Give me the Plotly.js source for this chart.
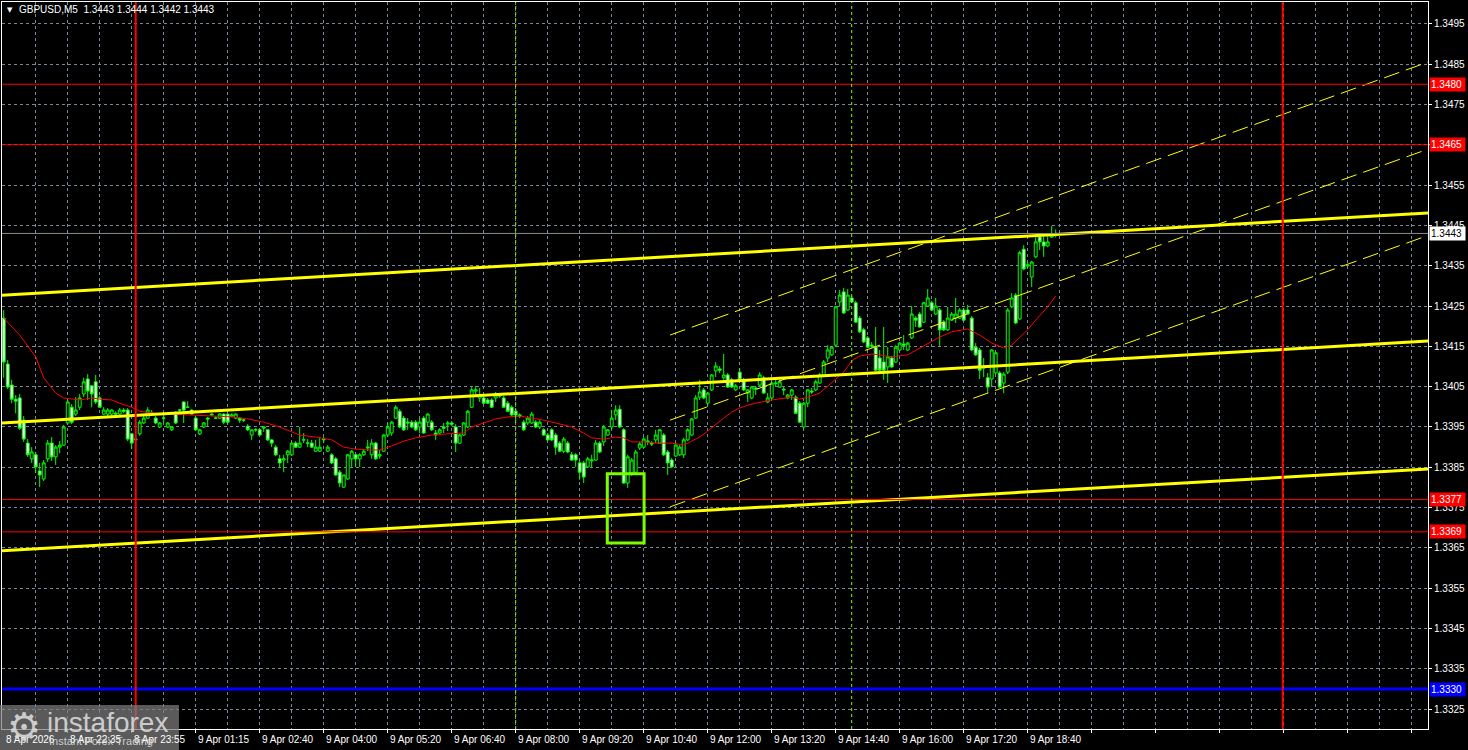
<!DOCTYPE html>
<html>
<head>
<meta charset="utf-8">
<script src="https://cdn.plot.ly/plotly-3.0.1.min.js"></script>
<style>
html,body{margin:0;padding:0;background:#000;}
#chart{width:1468px;height:750px;}
</style>
</head>
<body>
<div id="chart"></div>
<script>
// ---------- DATA (GBPUSD M5) ----------
const symbolTitle = "GBPUSD,M5  1.3443 1.3444 1.3442 1.3443";

const opens = [1.34220,1.34106,1.34054,1.34019,1.34022,1.33967,1.33910,1.33871,1.33881,1.33841,
1.33821,1.33871,1.33910,1.33876,1.33900,1.33905,1.33960,1.33999,1.33982,1.33999,
1.34032,1.34069,1.34052,1.34062,1.34022,1.33982,1.33982,1.33982,1.33984,1.33982,
1.33992,1.33992,1.33933,1.33918,1.33933,1.33960,1.33972,1.33984,1.33972,1.33950,
1.33972,1.33950,1.33943,1.33982,1.33992,1.34012,1.33999,1.33992,1.33972,1.33933,
1.33950,1.33972,1.33982,1.33972,1.33972,1.33982,1.33982,1.33977,1.33972,1.33972,
1.33967,1.33952,1.33930,1.33943,1.33943,1.33947,1.33943,1.33918,1.33900,1.33871,
1.33868,1.33881,1.33881,1.33910,1.33900,1.33918,1.33910,1.33910,1.33890,1.33890,
1.33918,1.33890,1.33881,1.33871,1.33838,1.33801,1.33821,1.33871,1.33881,1.33871,
1.33881,1.33898,1.33881,1.33910,1.33878,1.33890,1.33930,1.33935,1.33972,1.33989,
1.33972,1.33962,1.33962,1.33962,1.33950,1.33972,1.33962,1.33962,1.33935,1.33935,
1.33950,1.33957,1.33960,1.33950,1.33910,1.33930,1.33950,1.33999,1.34039,1.34022,
1.34022,1.34017,1.34017,1.34022,1.34029,1.34022,1.34009,1.33999,1.33989,1.33980,
1.33962,1.33960,1.33960,1.33962,1.33950,1.33943,1.33930,1.33943,1.33930,1.33910,
1.33890,1.33910,1.33881,1.33881,1.33861,1.33861,1.33851,1.33866,1.33868,1.33910,
1.33913,1.33930,1.33950,1.33980,1.33994,1.33943,1.33811,1.33836,1.33838,1.33898,
1.33900,1.33913,1.33910,1.33918,1.33910,1.33930,1.33888,1.33868,1.33878,1.33881,
1.33881,1.33918,1.33930,1.33972,1.34024,1.34042,1.34009,1.34042,1.34089,1.34094,
1.34072,1.34079,1.34067,1.34042,1.34086,1.34067,1.34034,1.34022,1.34047,1.34054,
1.34072,1.34012,1.34022,1.34057,1.34049,1.34044,1.34022,1.34029,1.34024,1.34009,
1.33950,1.34009,1.34039,1.34042,1.34059,1.34079,1.34121,1.34129,1.34153,1.34260,
1.34285,1.34240,1.34270,1.34258,1.34220,1.34191,1.34171,1.34153,1.34148,1.34121,
1.34111,1.34099,1.34121,1.34111,1.34141,1.34156,1.34141,1.34171,1.34220,1.34230,
1.34210,1.34250,1.34258,1.34230,1.34240,1.34210,1.34191,1.34215,1.34220,1.34220,
1.34240,1.34240,1.34220,1.34148,1.34141,1.34101,1.34072,1.34069,1.34084,1.34084,
1.34059,1.34086,1.34248,1.34277,1.34218,1.34391,1.34349,1.34322,1.34372,1.34421,
1.34409,1.34399,1.34421,1.34430];

const highs = [1.34240,1.34116,1.34067,1.34029,1.34032,1.33977,1.33920,1.33900,1.33888,1.33861,
1.33868,1.33918,1.33925,1.33905,1.33915,1.33955,1.34017,1.34007,1.34024,1.34032,
1.34072,1.34081,1.34054,1.34079,1.34027,1.33999,1.33997,1.33994,1.33989,1.33997,
1.33997,1.33997,1.33935,1.33925,1.33967,1.33977,1.33999,1.33992,1.33977,1.33962,
1.33982,1.33962,1.33952,1.33989,1.33994,1.34014,1.34014,1.33994,1.33977,1.33945,
1.33962,1.33975,1.33984,1.33977,1.33984,1.33984,1.33984,1.33984,1.33984,1.33975,
1.33972,1.33957,1.33943,1.33947,1.33945,1.33952,1.33945,1.33920,1.33905,1.33881,
1.33881,1.33893,1.33913,1.33915,1.33950,1.33935,1.33920,1.33918,1.33918,1.33923,
1.33925,1.33905,1.33885,1.33876,1.33843,1.33831,1.33883,1.33893,1.33883,1.33885,
1.33893,1.33918,1.33920,1.33913,1.33893,1.33933,1.33960,1.33965,1.34004,1.33994,
1.33977,1.33972,1.33967,1.33967,1.33972,1.33977,1.33984,1.33967,1.33943,1.33947,
1.33960,1.33965,1.33965,1.33957,1.33933,1.33962,1.33992,1.34049,1.34052,1.34047,
1.34027,1.34022,1.34022,1.34037,1.34034,1.34027,1.34014,1.34004,1.33994,1.33984,
1.33967,1.33977,1.33987,1.33967,1.33967,1.33947,1.33935,1.33947,1.33935,1.33915,
1.33925,1.33915,1.33888,1.33885,1.33868,1.33866,1.33876,1.33881,1.33918,1.33915,
1.33955,1.33945,1.33992,1.34004,1.34004,1.33947,1.33881,1.33873,1.33893,1.33913,
1.33925,1.33930,1.33915,1.33943,1.33945,1.33935,1.33893,1.33873,1.33910,1.33905,
1.33923,1.33947,1.33972,1.34029,1.34067,1.34047,1.34037,1.34081,1.34111,1.34101,
1.34131,1.34084,1.34072,1.34057,1.34096,1.34072,1.34044,1.34052,1.34052,1.34086,
1.34077,1.34034,1.34062,1.34074,1.34067,1.34049,1.34032,1.34044,1.34029,1.34014,
1.34012,1.34044,1.34047,1.34067,1.34084,1.34116,1.34153,1.34151,1.34250,1.34290,
1.34295,1.34292,1.34275,1.34263,1.34225,1.34196,1.34176,1.34161,1.34198,1.34141,
1.34198,1.34148,1.34126,1.34153,1.34161,1.34178,1.34161,1.34250,1.34225,1.34235,
1.34260,1.34292,1.34263,1.34270,1.34245,1.34215,1.34248,1.34235,1.34270,1.34245,
1.34245,1.34253,1.34225,1.34158,1.34146,1.34121,1.34084,1.34143,1.34136,1.34089,
1.34086,1.34245,1.34282,1.34282,1.34387,1.34401,1.34359,1.34362,1.34421,1.34431,
1.34426,1.34431,1.34449,1.34440];

const lows = [1.34072,1.34044,1.34009,1.33984,1.33943,1.33913,1.33876,1.33861,1.33836,1.33801,
1.33816,1.33863,1.33866,1.33856,1.33885,1.33903,1.33955,1.33957,1.33977,1.33992,
1.34024,1.34017,1.33999,1.34007,1.33997,1.33980,1.33977,1.33977,1.33977,1.33980,
1.33984,1.33915,1.33895,1.33915,1.33928,1.33957,1.33970,1.33977,1.33957,1.33947,
1.33962,1.33947,1.33940,1.33957,1.33982,1.33960,1.33997,1.33980,1.33940,1.33930,
1.33947,1.33950,1.33977,1.33970,1.33970,1.33957,1.33957,1.33975,1.33970,1.33960,
1.33962,1.33940,1.33918,1.33938,1.33928,1.33938,1.33915,1.33900,1.33878,1.33848,
1.33838,1.33861,1.33878,1.33898,1.33898,1.33910,1.33900,1.33898,1.33888,1.33888,
1.33910,1.33888,1.33858,1.33829,1.33801,1.33799,1.33819,1.33851,1.33851,1.33851,
1.33878,1.33890,1.33871,1.33868,1.33871,1.33888,1.33925,1.33928,1.33970,1.33947,
1.33940,1.33943,1.33947,1.33940,1.33935,1.33933,1.33950,1.33940,1.33918,1.33933,
1.33935,1.33940,1.33952,1.33888,1.33908,1.33928,1.33947,1.33997,1.34024,1.34012,
1.34007,1.34007,1.33997,1.34012,1.34022,1.33997,1.33987,1.33977,1.33967,1.33972,
1.33940,1.33955,1.33957,1.33947,1.33945,1.33928,1.33915,1.33915,1.33881,1.33888,
1.33885,1.33885,1.33866,1.33851,1.33819,1.33811,1.33848,1.33848,1.33866,1.33885,
1.33903,1.33928,1.33943,1.33967,1.33947,1.33809,1.33799,1.33829,1.33836,1.33893,
1.33898,1.33905,1.33903,1.33910,1.33908,1.33878,1.33831,1.33848,1.33876,1.33878,
1.33873,1.33915,1.33928,1.33970,1.34017,1.34019,1.34004,1.34039,1.34074,1.34084,
1.34067,1.34047,1.34047,1.34039,1.34064,1.34039,1.34012,1.34019,1.34029,1.34052,
1.34032,1.34009,1.34019,1.34049,1.34047,1.34029,1.34019,1.34017,1.33982,1.33960,
1.33943,1.33999,1.34032,1.34039,1.34057,1.34077,1.34111,1.34126,1.34148,1.34248,
1.34230,1.34238,1.34258,1.34208,1.34183,1.34158,1.34146,1.34146,1.34089,1.34089,
1.34067,1.34059,1.34096,1.34109,1.34138,1.34141,1.34138,1.34168,1.34198,1.34196,
1.34208,1.34248,1.34238,1.34228,1.34151,1.34188,1.34188,1.34213,1.34208,1.34218,
1.34213,1.34228,1.34138,1.34126,1.34069,1.34074,1.34034,1.34049,1.34081,1.34047,
1.34034,1.34081,1.34245,1.34205,1.34215,1.34339,1.34344,1.34297,1.34369,1.34389,
1.34372,1.34396,1.34419,1.34420];

const closes = [1.34111,1.34049,1.34019,1.34014,1.33947,1.33920,1.33881,1.33888,1.33851,1.33831,
1.33861,1.33910,1.33876,1.33900,1.33905,1.33950,1.34012,1.33962,1.33992,1.34022,
1.34062,1.34039,1.34032,1.34012,1.33999,1.33992,1.33992,1.33992,1.33982,1.33992,
1.33989,1.33920,1.33910,1.33920,1.33962,1.33972,1.33992,1.33984,1.33960,1.33960,
1.33972,1.33960,1.33950,1.33960,1.33992,1.33992,1.33999,1.33982,1.33943,1.33943,
1.33960,1.33970,1.33980,1.33972,1.33982,1.33962,1.33962,1.33980,1.33982,1.33967,
1.33967,1.33943,1.33943,1.33943,1.33930,1.33950,1.33918,1.33910,1.33881,1.33861,
1.33871,1.33890,1.33910,1.33900,1.33910,1.33918,1.33910,1.33900,1.33900,1.33900,
1.33920,1.33900,1.33861,1.33831,1.33811,1.33831,1.33881,1.33890,1.33871,1.33881,
1.33890,1.33900,1.33910,1.33871,1.33881,1.33930,1.33950,1.33962,1.33999,1.33950,
1.33943,1.33960,1.33950,1.33943,1.33962,1.33935,1.33982,1.33943,1.33930,1.33943,
1.33947,1.33960,1.33957,1.33910,1.33930,1.33960,1.33989,1.34042,1.34042,1.34029,
1.34009,1.34009,1.33999,1.34029,1.34027,1.33999,1.33989,1.33980,1.33980,1.33977,
1.33943,1.33972,1.33982,1.33950,1.33962,1.33930,1.33918,1.33918,1.33900,1.33890,
1.33920,1.33888,1.33868,1.33868,1.33838,1.33826,1.33871,1.33868,1.33910,1.33888,
1.33950,1.33943,1.33972,1.33992,1.33950,1.33811,1.33876,1.33868,1.33888,1.33908,
1.33920,1.33915,1.33908,1.33930,1.33943,1.33881,1.33861,1.33851,1.33905,1.33900,
1.33918,1.33943,1.33970,1.34022,1.34037,1.34022,1.34034,1.34079,1.34101,1.34091,
1.34079,1.34049,1.34049,1.34052,1.34067,1.34042,1.34042,1.34049,1.34044,1.34079,
1.34034,1.34022,1.34059,1.34059,1.34062,1.34042,1.34029,1.34042,1.33984,1.33962,
1.34009,1.34042,1.34037,1.34062,1.34079,1.34111,1.34141,1.34148,1.34248,1.34277,
1.34233,1.34277,1.34260,1.34210,1.34186,1.34161,1.34148,1.34151,1.34091,1.34091,
1.34091,1.34124,1.34099,1.34148,1.34158,1.34153,1.34158,1.34230,1.34215,1.34198,
1.34258,1.34270,1.34240,1.34250,1.34191,1.34191,1.34220,1.34230,1.34230,1.34240,
1.34215,1.34230,1.34141,1.34129,1.34091,1.34096,1.34049,1.34141,1.34134,1.34049,
1.34081,1.34240,1.34270,1.34208,1.34382,1.34342,1.34352,1.34359,1.34409,1.34409,
1.34399,1.34409,1.34424,1.34430];

// red moving average, sampled along its path (bar number, price)
const maBars = [0,4,8,10,13,15,19,22,24,27,29,32,34,38,42,47,52,57,61,65,69,72,74,78,82,85,88,92,94,97,
100,103,107,111,115,117,120,123,126,129,132,135,138,140,142,145,147,150,153,155,157,160,163,167,170,
172,174,176,178,180,182,184,186,188,192,197,199,201,204,207,210,212,214,217,219,222,226,230,234,237,
241,244,247,250,252,256,258,261,263];
const maValues = [1.34220,1.34178,1.34124,1.34072,1.34034,1.34022,1.34017,1.34022,1.34019,1.34017,
1.34009,1.33999,1.33989,1.33984,1.33982,1.33980,1.33977,1.33975,1.33970,1.33962,1.33950,1.33938,
1.33930,1.33925,1.33918,1.33900,1.33895,1.33893,1.33893,1.33903,1.33915,1.33923,1.33930,1.33933,
1.33935,1.33950,1.33960,1.33970,1.33975,1.33977,1.33972,1.33967,1.33960,1.33955,1.33950,1.33935,
1.33923,1.33920,1.33925,1.33923,1.33913,1.33913,1.33910,1.33910,1.33905,1.33915,1.33925,1.33940,
1.33957,1.33972,1.33987,1.33997,1.34004,1.34009,1.34017,1.34024,1.34019,1.34024,1.34034,1.34059,
1.34086,1.34114,1.34126,1.34131,1.34129,1.34124,1.34129,1.34151,1.34173,1.34186,1.34193,1.34178,
1.34158,1.34146,1.34153,1.34191,1.34215,1.34248,1.34275];

// yellow regression channel (solid) : [bar, price] end points
const channelBars = [-0.425, 356.075];
const channelUpper = [1.34277, 1.34481];
const channelMiddle = [1.33960, 1.34163];
const channelLower = [1.33643, 1.33846];
// yellow dashed trend channel
const trendBars = [166.6, 356.075];
const trendUpper = [1.34178, 1.34855];
const trendMiddle = [1.33967, 1.34639];
const trendLower = [1.33752, 1.34425];

// horizontal levels
const redLevels = [1.3480, 1.3465, 1.3377, 1.3369];
const redLevelTags = ["1.3480", "1.3465", "1.3377", "1.3369"];
const blueLevel = 1.3330;
const blueLevelTag = "1.3330";
const bidPrice = 1.3443;
const bidTag = "1.3443";

// vertical markers (bar numbers)
const dayBreakBars = [33, 319.75];
const eventBars = [128, 212];

// signal box
const boxBars = [150.9, 160.1];
const boxPrices = [1.33662, 1.33834];

// axes (the 1.3465 grid label is hidden behind the 1.3465 level tag)
const yTickVals = [1.3325,1.3335,1.3345,1.3355,1.3365,1.3375,1.3385,1.3395,1.3405,1.3415,
1.3425,1.3435,1.3445,1.3455,1.3465,1.3475,1.3485,1.3495];
const yTickText = ["1.3325","1.3335","1.3345","1.3355","1.3365","1.3375","1.3385","1.3395","1.3405","1.3415",
"1.3425","1.3435","1.3445","1.3455","","1.3475","1.3485","1.3495"];
const timeLabelBars = [0,16,32,48,64,80,96,112,128,144,160,176,192,208,224,240,256];
const timeLabels = ["8 Apr 2026","8 Apr 22:35","8 Apr 23:55","9 Apr 01:15","9 Apr 02:40","9 Apr 04:00",
"9 Apr 05:20","9 Apr 06:40","9 Apr 08:00","9 Apr 09:20","9 Apr 10:40","9 Apr 12:00","9 Apr 13:20",
"9 Apr 14:40","9 Apr 16:00","9 Apr 17:20","9 Apr 18:40"];

// ---------- CHART ----------
const FONT = "Liberation Sans, Arial, sans-serif";
const GRID = "#778899";
const bars = opens.map((_, i) => i);

const majorGrid = [];
for (let k = 16; k <= 352; k += 16) majorGrid.push(k);
const minorGrid = [];
for (let k = 8; k <= 352; k += 16) minorGrid.push(k);

const traces = [
  {
    type: "candlestick", x: bars, open: opens, high: highs, low: lows, close: closes,
    increasing: {line: {color: "#00ff00", width: 1}, fillcolor: "#000000"},
    decreasing: {line: {color: "#00ff00", width: 1}, fillcolor: "#ffffff"},
    whiskerwidth: 0, hoverinfo: "skip"
  },
  {type: "scatter", mode: "lines", x: maBars, y: maValues, line: {color: "#ff0000", width: 1}, hoverinfo: "skip"}
];
[channelUpper, channelMiddle, channelLower].forEach(p => traces.push({
  type: "scatter", mode: "lines", x: channelBars, y: p, line: {color: "#ffff00", width: 3}, hoverinfo: "skip"
}));
[trendUpper, trendMiddle, trendLower].forEach(p => traces.push({
  type: "scatter", mode: "lines", x: trendBars, y: p, line: {color: "#ffff00", width: 1, dash: "16px,7px"}, hoverinfo: "skip"
}));

const shapes = [];
redLevels.forEach(v => shapes.push({type: "line", xref: "paper", x0: 0, x1: 1, yref: "y", y0: v, y1: v, line: {color: "#ff0000", width: 1}}));
shapes.push({type: "line", xref: "paper", x0: 0, x1: 1, yref: "y", y0: bidPrice, y1: bidPrice, line: {color: "#8c8c8c", width: 1}});
shapes.push({type: "line", xref: "paper", x0: 0, x1: 1, yref: "y", y0: blueLevel, y1: blueLevel, line: {color: "#0000ff", width: 3}});
eventBars.forEach(b => shapes.push({type: "line", xref: "x", x0: b, x1: b, yref: "paper", y0: 0, y1: 1, line: {color: "#7CFC00", width: 1, dash: "3px,3px"}}));
dayBreakBars.forEach(b => shapes.push({type: "line", xref: "x", x0: b, x1: b, yref: "paper", y0: 0, y1: 1, line: {color: "#ff0000", width: 2}}));
shapes.push({type: "rect", xref: "x", yref: "y", x0: boxBars[0], x1: boxBars[1], y0: boxPrices[0], y1: boxPrices[1], line: {color: "#7CFC00", width: 3}, fillcolor: "rgba(0,0,0,0)"});
// watermark box
shapes.push({type: "rect", xref: "paper", yref: "paper", x0: -0.0014, x1: 0.1241, y0: -0.0289, y1: 0.033, line: {width: 0}, fillcolor: "rgba(125,125,125,0.72)", layer: "above"});

const annotations = [];
function tag(y, text, bg, fg) {
  annotations.push({xref: "paper", x: 1.0007, xanchor: "left", yref: "y", y: y, yanchor: "middle", text: text,
    showarrow: false, bgcolor: bg, borderpad: 1, width: 33, align: "left",
    font: {family: FONT, size: 10, color: fg}});
}
redLevels.forEach((v, i) => tag(v, redLevelTags[i], "#ff0000", "#ffffff"));
tag(bidPrice, bidTag, "#ffffff", "#000000");
tag(blueLevel, blueLevelTag, "#0000ff", "#ffffff");

timeLabels.forEach((t, i) => annotations.push({xref: "x", x: timeLabelBars[i], xanchor: "left", yref: "paper", y: -0.0138, yanchor: "middle",
  text: t, showarrow: false, font: {family: FONT, size: 10, color: "#ffffff"}}));

annotations.push({xref: "paper", x: 0.0056, xanchor: "center", yref: "paper", y: 0.989, yanchor: "middle", text: "▼", showarrow: false,
  font: {family: "DejaVu Sans", size: 7, color: "#ffffff"}});
annotations.push({xref: "paper", x: 0.0105, xanchor: "left", yref: "paper", y: 0.989, yanchor: "middle", text: symbolTitle, showarrow: false,
  font: {family: FONT, size: 10, color: "#ffffff"}});

// watermark text
annotations.push({xref: "paper", x: 0.0154, xanchor: "center", yref: "paper", y: 0.003, yanchor: "middle", text: "⚙", showarrow: false,
  font: {family: "DejaVu Sans", size: 38, color: "rgba(220,220,220,0.9)"}});
annotations.push({xref: "paper", x: 0.0305, xanchor: "left", yref: "paper", y: 0.0095, yanchor: "middle", text: "instaforex", showarrow: false,
  font: {family: FONT, size: 28, color: "rgba(220,220,220,0.9)"}});
annotations.push({xref: "paper", x: 0.0315, xanchor: "left", yref: "paper", y: -0.0165, yanchor: "middle", text: "Instant Forex Trading", showarrow: false,
  font: {family: FONT, size: 11, color: "rgba(220,220,220,0.9)"}});

const layout = {
  width: 1468, height: 750,
  margin: {l: 2, r: 40, t: 2, b: 21, pad: 0},
  paper_bgcolor: "#000000", plot_bgcolor: "#000000",
  showlegend: false,
  boxgap: 0.15, boxgroupgap: 0.15,
  xaxis: {
    range: [-0.425, 356.075], tickmode: "array", tickvals: majorGrid, showticklabels: false,
    showgrid: true, gridcolor: GRID, griddash: "3px,3px", gridwidth: 1,
    minor: {tickmode: "array", tickvals: minorGrid, showgrid: true, gridcolor: GRID, griddash: "3px,3px", gridwidth: 1, ticks: ""},
    zeroline: false, showline: true, linecolor: "#ffffff", linewidth: 1, mirror: true,
    ticks: "outside", ticklen: 3, tickcolor: "#ffffff",
    rangeslider: {visible: false}, fixedrange: true
  },
  yaxis: {
    side: "right", range: [1.33201, 1.35004], tickmode: "array", tickvals: yTickVals, ticktext: yTickText,
    showgrid: true, gridcolor: GRID, griddash: "3px,3px", gridwidth: 1,
    zeroline: false, showline: true, linecolor: "#ffffff", linewidth: 1, mirror: true,
    ticks: "outside", ticklen: 3, tickcolor: "#ffffff",
    tickfont: {family: FONT, size: 10, color: "#ffffff"}, fixedrange: true
  },
  shapes: shapes,
  annotations: annotations
};

Plotly.newPlot("chart", traces, layout, {staticPlot: true, displayModeBar: false});
</script>
</body>
</html>
